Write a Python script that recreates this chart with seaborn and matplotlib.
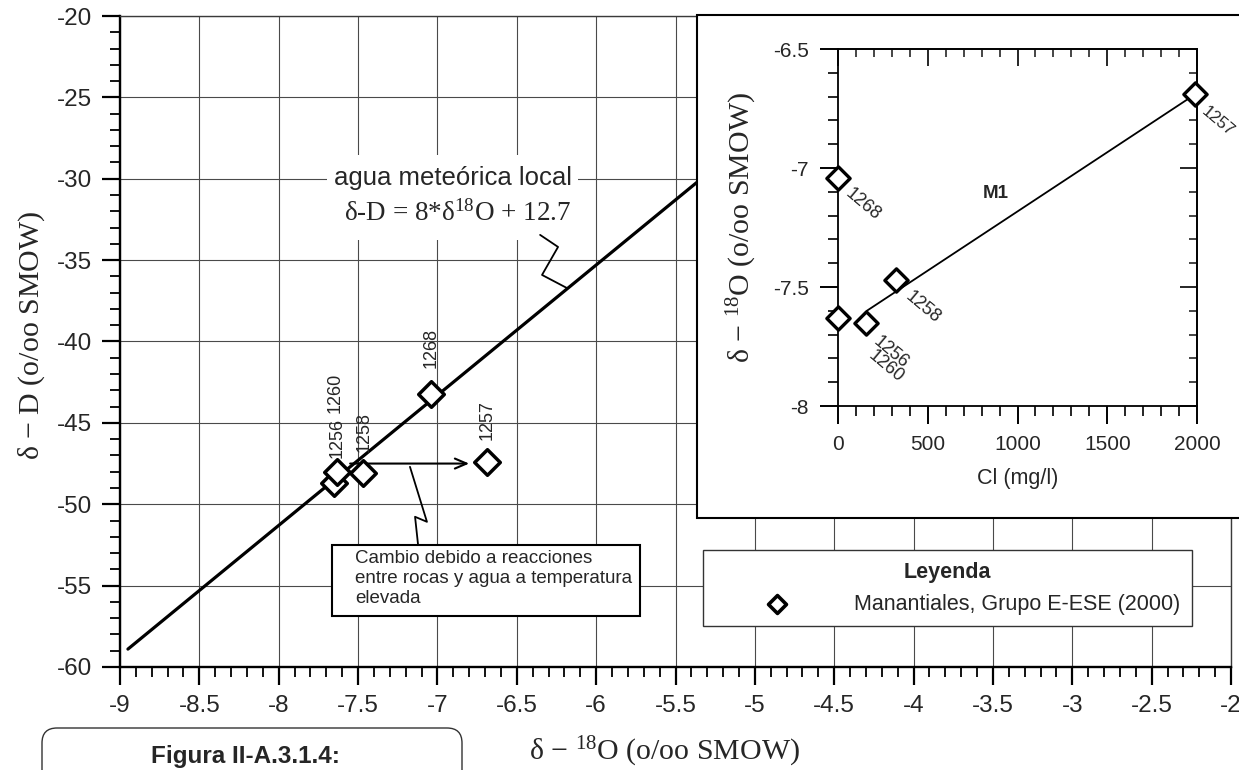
import numpy as np
import matplotlib
matplotlib.use("Agg")
import matplotlib.pyplot as plt
from matplotlib.patches import Rectangle, FancyBboxPatch
from matplotlib.ticker import MultipleLocator, FuncFormatter, NullFormatter
import seaborn as sns

# Springs of the E-ESE group (2000)
sample_ids = ["1256", "1260", "1258", "1268", "1257"]
delta_18o = [-7.65, -7.63, -7.47, -7.04, -6.69]
delta_d = [-48.7, -48.0, -48.1, -43.2, -47.4]
chloride = [153, 0, 323, 0, 1990]

# local meteoric water line  dD = 8 * d18O + 12.7
lmwl_slope = 8.0
lmwl_intercept = 12.7
lmwl_x = [-8.95, -4.8]

# mixing trend M1 (Cl vs d18O)
m1_cl = [160, 1990]
m1_o18 = [-7.60, -6.69]

# axis ticks
main_xticks = [-9, -8.5, -8, -7.5, -7, -6.5, -6, -5.5, -5, -4.5, -4, -3.5, -3, -2.5, -2]
main_yticks = [-60, -55, -50, -45, -40, -35, -30, -25, -20]
inset_xticks = [0, 500, 1000, 1500, 2000]
inset_yticks = [-8, -7.5, -7, -6.5]

sns.set_theme(style="white")
plt.rcParams["font.family"] = ["Liberation Sans", "DejaVu Sans"]
plt.rcParams["mathtext.fontset"] = "custom"
plt.rcParams["mathtext.rm"] = "Liberation Serif"
plt.rcParams["mathtext.it"] = "Liberation Serif:italic"
plt.rcParams["mathtext.bf"] = "Liberation Serif:bold"
plt.rcParams["axes.unicode_minus"] = False

SERIF = ["Liberation Serif", "DejaVu Serif"]
fmt = FuncFormatter(lambda v, p: f"{v:g}")

fig = plt.figure(figsize=(12.39, 7.70), dpi=100)
fig.patch.set_facecolor("white")

# ---------------- main panel: dD vs d18O ----------------
ax = fig.add_axes([0.09685, 0.13377, 0.8967, 0.84545])
ax.set_zorder(0)
ax.set_facecolor("white")
ax.set_xlim(-9, -2)
ax.set_ylim(-60, -20)
ax.set_xticks(main_xticks)
ax.set_yticks(main_yticks)
ax.xaxis.set_minor_locator(MultipleLocator(0.1))
ax.yaxis.set_minor_locator(MultipleLocator(1))
ax.xaxis.set_major_formatter(fmt)
ax.yaxis.set_major_formatter(fmt)
ax.grid(True, which="major", color="#4a4a4a", lw=0.8)
ax.set_axisbelow(True)
ax.tick_params(which="major", direction="out", length=13, width=1.6, color="black",
               labelsize=17.5, pad=7, bottom=True, left=True)
ax.tick_params(which="minor", direction="out", length=7, width=1.3, color="black",
               bottom=True, left=True)
for side in ["left", "bottom"]:
    ax.spines[side].set_linewidth(1.7)
    ax.spines[side].set_color("black")
for side in ["top", "right"]:
    ax.spines[side].set_linewidth(1.0)
    ax.spines[side].set_color("#3a3a3a")

# meteoric water line
lmwl_y = [lmwl_slope * v + lmwl_intercept for v in lmwl_x]
sns.lineplot(x=lmwl_x, y=lmwl_y, ax=ax, color="black", lw=2.3, zorder=3)

# white backing behind the line's caption
ax.add_patch(Rectangle((-7.696, -33.76), 1.582, 5.22, fc="white", ec="none", zorder=1.5))
ax.text(-6.905, -29.95, "agua meteórica local", ha="center", va="center",
        fontsize=18.5, zorder=4)
ax.text(-6.87, -32.1, "δ-D = 8*δ$^{18}$O + 12.7", ha="center", va="center",
        fontsize=19.5, family=SERIF, zorder=4)
ax.plot([-6.353, -6.240, -6.341, -6.183], [-33.45, -34.19, -35.91, -36.72],
        color="black", lw=1.3, zorder=4)

# shift towards high-temperature water-rock exchange
ax.annotate("", xy=(-6.80, -47.5), xytext=(-7.55, -47.5),
            arrowprops=dict(arrowstyle="->,head_length=0.7,head_width=0.3",
                            lw=1.5, color="black", shrinkA=0, shrinkB=0), zorder=4)
ax.plot([-7.173, -7.066, -7.141, -7.122], [-47.70, -51.08, -50.77, -52.49],
        color="black", lw=1.3, zorder=4)
ax.add_patch(Rectangle((-7.664, -56.86), 1.941, 4.37, fc="white", ec="black",
                       lw=1.5, zorder=4))
ax.text(-7.519, -54.55, "Cambio debido a reacciones\nentre rocas y agua a temperatura\nelevada",
        ha="left", va="center", fontsize=13.5, linespacing=1.25, zorder=5)

# samples
sns.scatterplot(x=delta_18o, y=delta_d, ax=ax, marker="D", s=170, color="black",
                facecolor="white", edgecolor="black", linewidth=2.5, zorder=6,
                label="Manantiales, Grupo E-ESE (2000)")
main_label_offsets = [(3, 25), (-2, 59), (1, 21), (0, 26), (0, 22)]
for sid, xv, yv, off in zip(sample_ids, delta_18o, delta_d, main_label_offsets):
    ax.annotate(sid, (xv, yv), xytext=off, textcoords="offset pixels", rotation=90,
                ha="center", va="bottom", fontsize=13, zorder=6)

leg = ax.legend(title="Leyenda", loc="upper left", bbox_to_anchor=(0.5248, 0.1797),
                borderaxespad=0, frameon=True, fancybox=False, framealpha=1,
                edgecolor="#333333", prop={"size": 15.5},
                title_fontproperties={"weight": "bold", "size": 15.5},
                handlelength=5.8, handletextpad=0.65, borderpad=0.55, markerscale=0.7)
leg.get_frame().set_linewidth(1.0)
for h in leg.legend_handles:
    h.set_linewidth(2.6)

ax.set_xlabel("δ $-$ $^{18}$O (o/oo SMOW)", fontsize=21.5, family=SERIF)
ax.set_ylabel("δ $-$ D (o/oo SMOW)", fontsize=21.5, family=SERIF)
ax.xaxis.set_label_coords(0.4905, -0.1306)
ax.xaxis.label.set_va("center")
ax.yaxis.set_label_coords(-0.0792, 0.51)
ax.yaxis.label.set_va("center")

# ---------------- inset: d18O vs Cl ----------------
fig.add_artist(Rectangle((0.5626, 0.3273), 0.45, 0.6532, transform=fig.transFigure,
                         fc="white", ec="black", lw=1.5, zorder=1))

axin = fig.add_axes([0.6764, 0.4727, 0.2897, 0.4636])
axin.set_zorder(2)
axin.set_facecolor("white")
axin.set_xlim(0, 2000)
axin.set_ylim(-8, -6.5)
axin.set_xticks(inset_xticks)
axin.set_yticks(inset_yticks)
axin.xaxis.set_minor_locator(MultipleLocator(100))
axin.yaxis.set_minor_locator(MultipleLocator(0.1))
axin.xaxis.set_major_formatter(fmt)
axin.yaxis.set_major_formatter(fmt)
axin.tick_params(which="major", direction="out", length=13, width=1.4, color="black",
                 labelsize=15, pad=8, bottom=True, left=True)
axin.tick_params(which="minor", direction="out", length=7, width=1.2, color="black",
                 bottom=True, left=True)
for side in axin.spines.values():
    side.set_linewidth(1.3)
    side.set_color("black")

sec_x = axin.secondary_xaxis("top")
sec_x.xaxis.set_major_locator(MultipleLocator(500))
sec_x.xaxis.set_minor_locator(MultipleLocator(100))
sec_x.xaxis.set_major_formatter(NullFormatter())
sec_x.tick_params(which="major", direction="in", length=12, width=1.4)
sec_x.tick_params(which="minor", direction="in", length=6, width=1.2)
sec_x.spines["top"].set_linewidth(1.3)
sec_y = axin.secondary_yaxis("right")
sec_y.yaxis.set_major_locator(MultipleLocator(0.5))
sec_y.yaxis.set_minor_locator(MultipleLocator(0.1))
sec_y.yaxis.set_major_formatter(NullFormatter())
sec_y.tick_params(which="major", direction="in", length=12, width=1.4)
sec_y.tick_params(which="minor", direction="in", length=6, width=1.2)
sec_y.spines["right"].set_linewidth(1.3)

sns.lineplot(x=m1_cl, y=m1_o18, ax=axin, color="black", lw=1.3, zorder=3)
sns.scatterplot(x=chloride, y=delta_18o, ax=axin, marker="D", s=140, color="black",
                facecolor="white", edgecolor="black", linewidth=2.4, zorder=6,
                clip_on=False, legend=False)
inset_label_offsets = [(10, -17), (32, -36), (11, -15), (9, -14), (8, -15)]
inset_label_sizes = [13, 13, 13, 13, 12]
for sid, xv, yv, off, fs in zip(sample_ids, chloride, delta_18o,
                                inset_label_offsets, inset_label_sizes):
    axin.annotate(sid, (xv, yv), xytext=off, textcoords="offset pixels", rotation=-40,
                  rotation_mode="anchor", ha="left", va="center", fontsize=fs,
                  zorder=7, annotation_clip=False)
axin.text(880, -7.105, "M1", ha="center", va="center", fontsize=13.5, fontweight="bold")

axin.set_xlabel("Cl (mg/l)", fontsize=15.5)
axin.set_ylabel("δ $-$ $^{18}$O (o/oo SMOW)", fontsize=21.5, family=SERIF)
axin.xaxis.set_label_coords(0.5, -0.2017)
axin.xaxis.label.set_va("center")
axin.yaxis.set_label_coords(-0.267, 0.5)
axin.yaxis.label.set_va("center")

# ---------------- figure caption tab ----------------
fig.add_artist(FancyBboxPatch((0.42, -0.3), 4.20, 0.72, transform=fig.dpi_scale_trans,
                              boxstyle="round,pad=0,rounding_size=0.15",
                              fc="white", ec="#333333", lw=1.0, zorder=1, clip_on=False))
fig.text(2.45, 0.13, "Figura II-A.3.1.4:", transform=fig.dpi_scale_trans,
         ha="center", va="center", fontsize=17.5, fontweight="bold", zorder=2)

fig.savefig("out.png", dpi=100, facecolor="white")
